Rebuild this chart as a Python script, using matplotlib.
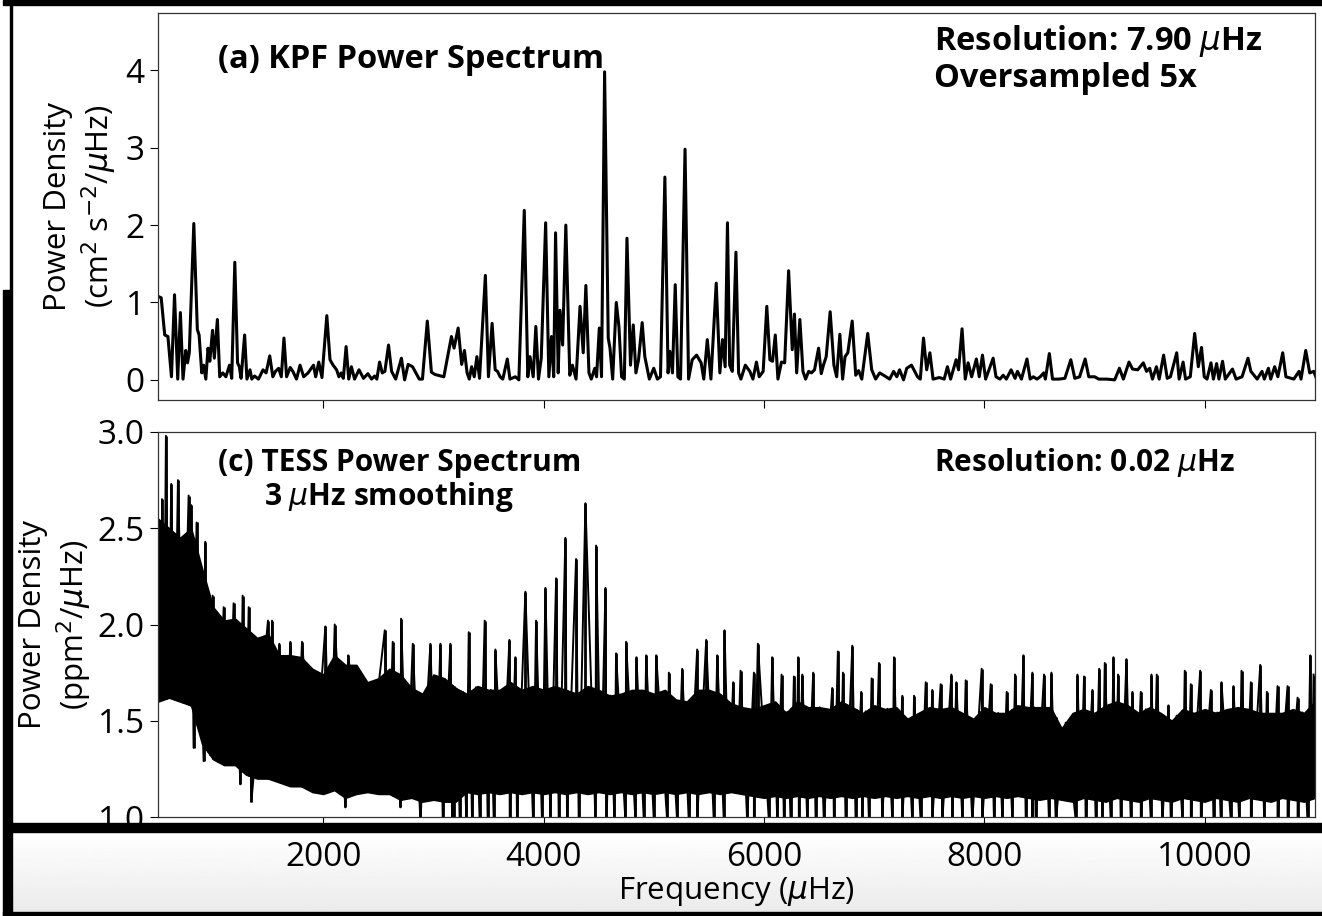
import numpy as np
import matplotlib
matplotlib.use("Agg")
import matplotlib.pyplot as plt
from matplotlib.patches import Rectangle

plt.rcParams['font.family'] = ['Open Sans', 'Noto Sans', 'DejaVu Sans']
plt.rcParams['mathtext.fontset'] = 'dejavusans'

# ---- (a) KPF power spectrum (frequency in uHz) ----
kpf_freq = [500, 529, 561, 590, 622, 650, 679, 703, 727, 752, 768, 784, 825, 857, 873, 897, 914, 934, 954, 970,
            995, 1011, 1039, 1060, 1088, 1116, 1149, 1169, 1197, 1222, 1238, 1254, 1286, 1307, 1335, 1351, 1376, 1412, 1453, 1481,
            1514, 1542, 1566, 1595, 1619, 1643, 1667, 1700, 1724, 1757, 1789, 1822, 1862, 1911, 1931, 1959, 1988, 2032, 2061, 2089,
            2121, 2142, 2162, 2182, 2207, 2231, 2255, 2284, 2324, 2365, 2405, 2438, 2466, 2486, 2511, 2535, 2559, 2592, 2620, 2657,
            2709, 2738, 2770, 2810, 2871, 2900, 2944, 2981, 3013, 3094, 3135, 3163, 3187, 3224, 3256, 3281, 3305, 3325, 3346, 3370,
            3394, 3418, 3471, 3499, 3532, 3560, 3581, 3605, 3629, 3670, 3694, 3743, 3775, 3824, 3856, 3876, 3905, 3929, 3953, 3978,
            4018, 4047, 4071, 4091, 4108, 4132, 4148, 4172, 4201, 4237, 4261, 4294, 4330, 4359, 4383, 4411, 4432, 4464, 4480, 4505,
            4525, 4553, 4586, 4602, 4626, 4659, 4683, 4707, 4732, 4756, 4788, 4813, 4837, 4861, 4894, 4918, 4959, 4999, 5032, 5060,
            5100, 5129, 5145, 5169, 5194, 5218, 5242, 5283, 5315, 5348, 5388, 5429, 5453, 5485, 5518, 5566, 5599, 5623, 5647, 5668,
            5688, 5712, 5745, 5769, 5790, 5830, 5871, 5899, 5931, 5956, 5992, 6025, 6053, 6077, 6102, 6126, 6158, 6187, 6223, 6256,
            6276, 6296, 6325, 6353, 6377, 6405, 6430, 6458, 6495, 6519, 6539, 6564, 6600, 6634, 6659, 6688, 6713, 6735, 6760, 6800,
            6832, 6858, 6887, 6941, 6977, 7013, 7049, 7085, 7140, 7176, 7205, 7230, 7266, 7295, 7338, 7393, 7418, 7447, 7476, 7505,
            7534, 7591, 7635, 7664, 7693, 7743, 7765, 7797, 7826, 7852, 7884, 7927, 7953, 7982, 8011, 8079, 8105, 8141, 8170, 8199,
            8242, 8278, 8300, 8336, 8386, 8415, 8444, 8477, 8506, 8538, 8553, 8589, 8618, 8676, 8730, 8784, 8820, 8864, 8914, 8947,
            9001, 9037, 9109, 9182, 9225, 9261, 9312, 9344, 9391, 9442, 9471, 9500, 9525, 9561, 9586, 9626, 9659, 9688, 9745, 9767,
            9803, 9825, 9868, 9908, 9941, 9970, 9995, 10020, 10056, 10078, 10107, 10128, 10161, 10186, 10251, 10284, 10338, 10392, 10418, 10475,
            10519, 10540, 10577, 10598, 10634, 10663, 10707, 10736, 10808, 10855, 10873, 10916, 10952, 10989, 11007]
kpf_power = [1.08, 1.06, 0.58, 0.56, 0.04, 1.10, 0.01, 0.87, 0.01, 0.38, 0.22, 0.35, 2.02, 0.65, 0.58, 0.09, 0.19, 0.01, 0.41, 0.24,
             0.64, 0.28, 0.78, 0.04, 0.09, 0.04, 0.19, 0.02, 1.52, 0.22, 0.17, 0.02, 0.58, 0.01, 0.13, 0.01, 0.05, 0.01, 0.13, 0.09,
             0.31, 0.04, 0.11, 0.15, 0.04, 0.54, 0.04, 0.16, 0.11, 0.01, 0.19, 0.04, 0.09, 0.19, 0.04, 0.23, 0.03, 0.83, 0.26, 0.19,
             0.13, 0.04, 0.09, 0.02, 0.43, 0.01, 0.17, 0.01, 0.13, 0.02, 0.08, 0.01, 0.05, 0.01, 0.23, 0.09, 0.11, 0.45, 0.11, 0.01,
             0.28, 0.00, 0.20, 0.17, 0.01, 0.01, 0.76, 0.10, 0.07, 0.04, 0.35, 0.56, 0.41, 0.67, 0.20, 0.38, 0.09, 0.01, 0.17, 0.04,
             0.30, 0.02, 1.35, 0.04, 0.73, 0.13, 0.11, 0.04, 0.01, 0.27, 0.01, 0.04, 0.00, 2.19, 0.04, 0.30, 0.04, 0.69, 0.01, 0.28,
             2.03, 0.04, 0.56, 0.04, 1.90, 0.09, 0.90, 0.45, 2.00, 0.06, 0.19, 0.01, 0.95, 0.35, 1.22, 0.09, 0.01, 0.15, 0.04, 0.67,
             0.04, 3.98, 0.54, 0.41, 0.01, 1.00, 0.69, 0.04, 0.01, 1.83, 0.19, 0.71, 0.09, 0.26, 0.74, 0.30, 0.01, 0.15, 0.01, 0.04,
             2.62, 0.09, 0.37, 0.09, 1.23, 0.04, 0.01, 2.98, 0.01, 0.26, 0.32, 0.22, 0.01, 0.52, 0.01, 1.25, 0.09, 0.52, 0.17, 2.03,
             0.19, 0.11, 1.65, 0.09, 0.01, 0.19, 0.11, 0.01, 0.23, 0.04, 0.11, 0.95, 0.26, 0.24, 0.58, 0.01, 0.23, 0.22, 1.41, 0.39,
             0.85, 0.09, 0.78, 0.11, 0.01, 0.11, 0.09, 0.13, 0.41, 0.08, 0.19, 0.30, 0.88, 0.19, 0.04, 0.59, 0.01, 0.30, 0.35, 0.76,
             0.06, 0.12, 0.01, 0.60, 0.13, 0.01, 0.09, 0.06, 0.01, 0.11, 0.04, 0.13, 0.00, 0.15, 0.19, 0.04, 0.01, 0.54, 0.13, 0.35,
             0.01, 0.03, 0.01, 0.17, 0.01, 0.26, 0.13, 0.66, 0.01, 0.22, 0.04, 0.27, 0.04, 0.32, 0.01, 0.28, 0.04, 0.01, 0.06, 0.01,
             0.13, 0.02, 0.11, 0.01, 0.27, 0.01, 0.04, 0.01, 0.04, 0.09, 0.01, 0.34, 0.01, 0.01, 0.02, 0.26, 0.02, 0.04, 0.27, 0.04,
             0.04, 0.01, 0.01, 0.00, 0.15, 0.01, 0.23, 0.14, 0.13, 0.22, 0.11, 0.15, 0.01, 0.17, 0.01, 0.32, 0.02, 0.04, 0.35, 0.01,
             0.23, 0.01, 0.04, 0.60, 0.17, 0.42, 0.04, 0.01, 0.22, 0.01, 0.21, 0.01, 0.24, 0.01, 0.14, 0.01, 0.04, 0.28, 0.11, 0.01,
             0.11, 0.01, 0.15, 0.01, 0.17, 0.04, 0.35, 0.04, 0.01, 0.11, 0.01, 0.38, 0.09, 0.11, 0.04]

# ---- (c) TESS power spectrum: dense band read as upper / lower edge every 100 uHz ----
tess_freq = [500, 600, 700, 800, 900, 1000, 1100, 1200, 1300, 1400, 1500, 1600, 1700, 1800, 1900, 2000,
             2100, 2200, 2300, 2400, 2500, 2600, 2700, 2800, 2900, 3000, 3100, 3200, 3300, 3400, 3500, 3600,
             3700, 3800, 3900, 4000, 4100, 4200, 4300, 4400, 4500, 4600, 4700, 4800, 4900, 5000, 5100, 5200,
             5300, 5400, 5500, 5600, 5700, 5800, 5900, 6000, 6100, 6200, 6300, 6400, 6500, 6600, 6700, 6800,
             6900, 7000, 7100, 7200, 7300, 7400, 7500, 7600, 7700, 7800, 7900, 8000, 8100, 8200, 8300, 8400,
             8500, 8600, 8700, 8800, 8900, 9000, 9100, 9200, 9300, 9400, 9500, 9600, 9700, 9800, 9900, 10000,
             10100, 10200, 10300, 10400, 10500, 10600, 10700, 10800, 10900, 11000]
tess_top = [2.55, 2.50, 2.45, 2.50, 2.29, 2.09, 2.02, 2.03, 1.98, 1.93, 1.95, 1.84, 1.84, 1.83, 1.77, 1.74,
            1.84, 1.79, 1.79, 1.70, 1.72, 1.77, 1.74, 1.67, 1.64, 1.74, 1.72, 1.67, 1.64, 1.68, 1.66, 1.66,
            1.70, 1.66, 1.68, 1.66, 1.68, 1.66, 1.64, 1.68, 1.66, 1.63, 1.64, 1.66, 1.66, 1.64, 1.66, 1.61,
            1.60, 1.66, 1.66, 1.64, 1.59, 1.57, 1.56, 1.58, 1.60, 1.54, 1.60, 1.57, 1.57, 1.56, 1.60, 1.57,
            1.54, 1.58, 1.56, 1.57, 1.51, 1.54, 1.57, 1.56, 1.57, 1.54, 1.51, 1.57, 1.54, 1.54, 1.58, 1.57,
            1.57, 1.57, 1.46, 1.54, 1.56, 1.54, 1.58, 1.60, 1.58, 1.54, 1.57, 1.54, 1.50, 1.56, 1.54, 1.56,
            1.54, 1.56, 1.57, 1.56, 1.54, 1.54, 1.54, 1.56, 1.54, 1.60]
tess_bottom = [1.60, 1.62, 1.60, 1.58, 1.38, 1.30, 1.27, 1.27, 1.22, 1.20, 1.20, 1.18, 1.16, 1.16, 1.13, 1.12,
               1.14, 1.10, 1.12, 1.13, 1.12, 1.12, 1.09, 1.10, 1.08, 1.09, 1.08, 1.08, 1.13, 1.12, 1.13, 1.12,
               1.13, 1.12, 1.13, 1.12, 1.13, 1.12, 1.13, 1.12, 1.13, 1.12, 1.13, 1.12, 1.13, 1.12, 1.13, 1.12,
               1.13, 1.12, 1.13, 1.12, 1.13, 1.12, 1.11, 1.10, 1.11, 1.10, 1.11, 1.10, 1.11, 1.10, 1.11, 1.10,
               1.11, 1.10, 1.11, 1.10, 1.11, 1.10, 1.11, 1.10, 1.11, 1.10, 1.11, 1.10, 1.11, 1.10, 1.11, 1.10,
               1.09, 1.10, 1.09, 1.08, 1.10, 1.09, 1.08, 1.10, 1.09, 1.08, 1.10, 1.09, 1.08, 1.10, 1.09, 1.08,
               1.10, 1.09, 1.08, 1.10, 1.09, 1.08, 1.10, 1.09, 1.08, 1.10]

# narrow upward spikes standing above the band
spike_freq = [536, 572, 620, 681, 778, 802, 850, 929, 953, 996, 1096, 1186, 1268, 1323, 1498, 1535, 1601, 1701, 1807, 2019,
              2104, 2225, 2558, 2630, 2706, 2812, 2972, 3063, 3153, 3320, 3465, 3562, 3689, 3743, 3834, 3931, 4016, 4113, 4197, 4294,
              4379, 4476, 4561, 4657, 4748, 4842, 4930, 5021, 5136, 5257, 5393, 5475, 5575, 5641, 5720, 5787, 5908, 5944, 6074, 6159,
              6271, 6310, 6347, 6446, 6619, 6670, 6716, 6801, 6882, 6976, 7043, 7179, 7255, 7361, 7467, 7527, 7603, 7700, 7745, 7830,
              7975, 8057, 8202, 8278, 8354, 8435, 8541, 8608, 8844, 8904, 8980, 9041, 9092, 9171, 9213, 9289, 9343, 9419, 9516, 9564,
              9670, 9818, 9873, 9958, 10055, 10151, 10260, 10333, 10418, 10503, 10563, 10660, 10751, 10842, 10957, 10987]
spike_power = [2.65, 2.98, 2.73, 2.75, 2.67, 2.62, 2.53, 2.43, 2.13, 2.15, 2.09, 2.11, 2.15, 2.09, 2.02, 2.02, 1.90, 1.91, 1.91, 1.99,
               2.00, 1.84, 1.97, 1.91, 2.03, 1.90, 1.90, 1.90, 1.90, 1.96, 2.02, 1.87, 1.92, 1.83, 2.17, 2.02, 2.19, 2.24, 2.45, 2.34,
               2.63, 2.41, 2.19, 1.85, 1.91, 1.83, 1.84, 1.84, 1.75, 1.77, 1.87, 1.92, 1.84, 1.97, 1.70, 1.76, 1.75, 1.90, 1.83, 1.74,
               1.73, 1.83, 1.74, 1.75, 1.67, 1.86, 1.75, 1.89, 1.65, 1.72, 1.80, 1.83, 1.63, 1.63, 1.70, 1.66, 1.69, 1.74, 1.70, 1.71,
               1.77, 1.69, 1.65, 1.74, 1.84, 1.75, 1.74, 1.75, 1.74, 1.73, 1.66, 1.77, 1.80, 1.83, 1.74, 1.82, 1.65, 1.65, 1.74, 1.74,
               1.58, 1.76, 1.69, 1.76, 1.66, 1.70, 1.68, 1.76, 1.70, 1.79, 1.65, 1.68, 1.68, 1.62, 1.84, 1.74]

# narrow downward dips below the band
dip_freq = [823, 914, 1247, 1347, 2200, 2700, 2881, 3084, 3169, 3183, 3238, 3298, 3350, 3419, 3492, 3547, 3692, 3758, 3904, 3985,
            4061, 4137, 4212, 4318, 4470, 4570, 4642, 4742, 4833, 4909, 5000, 5121, 5211, 5317, 5393, 5544, 5635, 5847, 5908, 6044,
            6120, 6180, 6241, 6316, 6392, 6468, 6543, 6634, 6740, 6831, 6891, 6952, 7073, 7164, 7255, 7345, 7421, 7527, 7618, 7709,
            7800, 7890, 7981, 8087, 8163, 8254, 8375, 8435, 8465, 8586, 8647, 8829, 8919, 9010, 9071, 9146, 9237, 9328, 9419, 9510,
            9616, 9691, 9797, 9873, 9964, 10079, 10145, 10236, 10312, 10418, 10539, 10660, 10751, 10842, 10932]
dip_power = [1.36, 1.29, 1.17, 1.08, 1.05, 1.05, 0.98, 0.98, 0.98, 0.98, 0.98, 0.98, 0.98, 0.98, 0.98, 0.98, 0.98, 0.98, 0.98, 0.98,
             0.98, 0.98, 0.98, 0.98, 0.98, 0.98, 0.98, 0.98, 0.98, 0.98, 0.98, 0.98, 0.98, 0.98, 0.98, 0.98, 0.98, 0.98, 0.98, 0.98,
             0.98, 0.98, 0.98, 0.98, 0.98, 0.98, 0.98, 0.98, 0.98, 0.98, 0.98, 0.98, 0.98, 0.98, 0.98, 0.98, 0.98, 0.98, 0.98, 0.98,
             0.98, 0.98, 0.98, 0.98, 0.98, 0.98, 0.98, 0.98, 0.98, 0.98, 0.98, 0.98, 0.98, 0.98, 0.98, 0.98, 0.98, 0.98, 0.98, 0.98,
             0.98, 0.98, 0.98, 0.98, 0.98, 0.98, 0.98, 0.98, 0.98, 0.98, 0.98, 0.98, 0.98, 0.98, 0.98]

W, H = 1322, 916
fig = plt.figure(figsize=(W / 100, H / 100), dpi=100)


def fig_rect(x0, y0, x1, y1):
    # pixel box (top-left origin) -> figure fraction rect
    return [x0 / W, 1 - y1 / H, (x1 - x0) / W, (y1 - y0) / H]


# grey band under the plots (the lower strip of the screenshot)
bg = fig.add_axes(fig_rect(12, 832, W, 913), zorder=-1)
bg.imshow(np.linspace(1.0, 0.92, 50).reshape(-1, 1), cmap='gray', vmin=0, vmax=1,
          aspect='auto', extent=[0, 1, 0, 1])
bg.axis('off')

ax1 = fig.add_axes(fig_rect(158, 13, 1315, 400), zorder=1)
ax2 = fig.add_axes(fig_rect(158, 432, 1315, 817), zorder=1, sharex=ax1)

ax1.plot(kpf_freq, kpf_power, color='k', lw=2.2, solid_joinstyle='round')
ax1.set_xlim(500, 11000)
ax1.set_ylim(-0.26, 4.74)
ax1.set_yticks([0, 1, 2, 3, 4])
ax1.tick_params(labelbottom=False)

f = np.array(tess_freq)
top = np.array(tess_top)
bot = np.array(tess_bottom)
ax2.fill_between(f, bot, top, color='k', lw=1.2)
sf = np.array(spike_freq)
sp = np.array(spike_power)
df = np.array(dip_freq)
dp = np.array(dip_power)
ax2.vlines(sf, np.interp(sf, f, bot), sp, color='k', lw=2.0)
ax2.vlines(df, dp, np.interp(df, f, top), color='k', lw=2.0)

# noisy trace: spike tops and dip bottoms in frequency order; two neighbours of the
# same kind are joined through the band so no line floats above or below it
ev_f = np.concatenate([sf, df])
ev_p = np.concatenate([sp, dp])
ev_up = np.concatenate([np.ones(len(sf), bool), np.zeros(len(df), bool)])
order = np.argsort(ev_f, kind='stable')
ev_f, ev_p, ev_up = ev_f[order], ev_p[order], ev_up[order]
trace_f, trace_p = [ev_f[0]], [ev_p[0]]
for i in range(1, len(ev_f)):
    if ev_up[i] == ev_up[i - 1]:
        mid = 0.5 * (ev_f[i] + ev_f[i - 1])
        trace_f.append(mid)
        trace_p.append(np.interp(mid, f, bot if ev_up[i] else top))
    trace_f.append(ev_f[i])
    trace_p.append(ev_p[i])
ax2.plot(trace_f, trace_p, color='k', lw=1.4)

ax2.set_ylim(1.0, 3.0)
ax2.set_yticks([1.0, 1.5, 2.0, 2.5, 3.0])
ax2.set_xticks([2000, 4000, 6000, 8000, 10000])

for ax in (ax1, ax2):
    ax.tick_params(labelsize=24, length=6, width=0.8)
    for s in ax.spines.values():
        s.set_linewidth(0.9)
        s.set_color('#333333')
ax2.tick_params(axis='x', pad=11)

ax1.set_ylabel('Power Density\n(cm$^2$ s$^{-2}$/$\\mu$Hz)', fontsize=22.5, labelpad=5)
ax2.set_ylabel('Power Density\n(ppm$^2$/$\\mu$Hz)', fontsize=22.5, labelpad=3)
ax2.set_xlabel('Frequency ($\\mu$Hz)', fontsize=22.5, labelpad=1)

ax1.text(0.052, 0.88, '(a) KPF Power Spectrum', transform=ax1.transAxes,
         fontsize=23.5, fontweight='bold', va='center', ha='left')
ax1.text(0.671, 0.975, 'Resolution: 7.90 $\\mu$Hz\nOversampled 5x', transform=ax1.transAxes,
         fontsize=23.5, fontweight='bold', va='top', ha='left', linespacing=1.15)
ax2.text(0.052, 0.92, '(c) TESS Power Spectrum', transform=ax2.transAxes,
         fontsize=21.5, fontweight='bold', va='center', ha='left')
ax2.text(0.092, 0.832, '3 $\\mu$Hz smoothing', transform=ax2.transAxes,
         fontsize=21.5, fontweight='bold', va='center', ha='left')
ax2.text(0.671, 0.92, 'Resolution: 0.02 $\\mu$Hz', transform=ax2.transAxes,
         fontsize=21.5, fontweight='bold', va='center', ha='left')

# black screenshot frame pieces
for box in [(3, 0, W, 5), (3, 290, 12, H), (10, 0, 12, 290), (12, 823, W, 832), (3, 912, W, H)]:
    x0, y0, x1, y1 = box
    r = fig_rect(x0, y0, x1, y1)
    fig.add_artist(Rectangle((r[0], r[1]), r[2], r[3], transform=fig.transFigure,
                             color='k', zorder=10))

fig.savefig('out.png', dpi=100)
